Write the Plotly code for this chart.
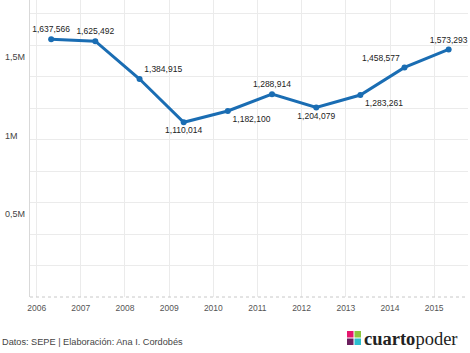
import plotly.graph_objects as go

years = [2006, 2007, 2008, 2009, 2010, 2011, 2012, 2013, 2014, 2015]
dates = [f"{y}-05-01" for y in years]
values = [1637566, 1625492, 1384915, 1110014, 1182100, 1288914, 1204079, 1283261, 1458577, 1573293]
label_pos = ["top center", "top center", "top right", "bottom center", "bottom right",
             "top center", "bottom center", "bottom right", "top left", "top center"]
ytick_vals = [500000, 1000000, 1500000]
ytick_text = ["0,5M", "1M", "1,5M"]
source_text = "Datos: SEPE | Elaboración: Ana I. Cordobés"

FONT = "Arial, 'Liberation Sans', sans-serif"

H_PLOT = 297.0
def py(pix):
    return (H_PLOT - pix) / H_PLOT
def px(pix):
    return (pix - 30) / 438.0

fig = go.Figure()
fig.add_trace(go.Scatter(
    x=dates, y=values, mode="lines+markers+text",
    line=dict(color="#1a6db3", width=3),
    marker=dict(color="#1a6db3", size=6),
    text=[f"{v:,}" for v in values],
    textposition=label_pos,
    textfont=dict(family=FONT, size=8.5, color="#222"),
    cliponaxis=False,
    hoverinfo="skip", showlegend=False,
))

annotations = []
for v, t in zip(ytick_vals, ytick_text):
    annotations.append(dict(x=px(3), xref="paper", y=v, yref="y", text=t,
                            showarrow=False, xanchor="left", yanchor="middle", yshift=4,
                            font=dict(family=FONT, size=9, color="#444")))
annotations.append(dict(x=px(0), xref="paper", y=py(342), yref="paper", text=source_text,
                        showarrow=False, xanchor="left", yanchor="middle",
                        font=dict(family=FONT, size=9.2, color="#444")))
annotations.append(dict(x=px(362), y=py(339), xref="paper", yref="paper",
                        text="<b>cuarto</b>poder", showarrow=False, xanchor="left", yanchor="middle",
                        font=dict(family="'Liberation Serif', 'Times New Roman', serif", size=18.5, color="#222")))

sq = [(347, 331, 353.5, 337.5, "#e5176e"), (354.5, 331, 361, 337.5, "#8dc63f"),
      (347, 338.5, 353.5, 345, "#6b1f5e"), (354.5, 338.5, 361, 345, "#2bbfcf")]
shapes = []
for x0, y0, x1, y1, c in sq:
    shapes.append(dict(type="rect", xref="paper", yref="paper", x0=px(x0), x1=px(x1),
                       y0=py(y1), y1=py(y0), fillcolor=c, line=dict(width=0)))
shapes.append(dict(type="line", xref="paper", yref="paper", x0=0, x1=1, y0=0, y1=0,
                   line=dict(color="#c8c8c8", width=1, dash="dot")))

fig.update_layout(
    width=470, height=353,
    margin=dict(l=30, r=2, t=0, b=56),
    paper_bgcolor="white", plot_bgcolor="white",
    font=dict(family=FONT),
    annotations=annotations, shapes=shapes,
    xaxis=dict(type="date", range=["2005-11-07", "2015-10-08"],
               tick0="2006-01-01", dtick="M12", tickformat="%Y",
               showgrid=True, gridcolor="#ebebeb", gridwidth=1,
               zeroline=False, showline=False, ticks="", ticklabelstandoff=4,
               tickfont=dict(family=FONT, size=8.5, color="#555")),
    yaxis=dict(range=[0, 1887000], dtick=200000, showgrid=True, gridcolor="#ebebeb",
               showticklabels=False, zeroline=False, showline=True, linecolor="#d9d9d9",
               ticks=""),
)

fig.write_html("out.html")
